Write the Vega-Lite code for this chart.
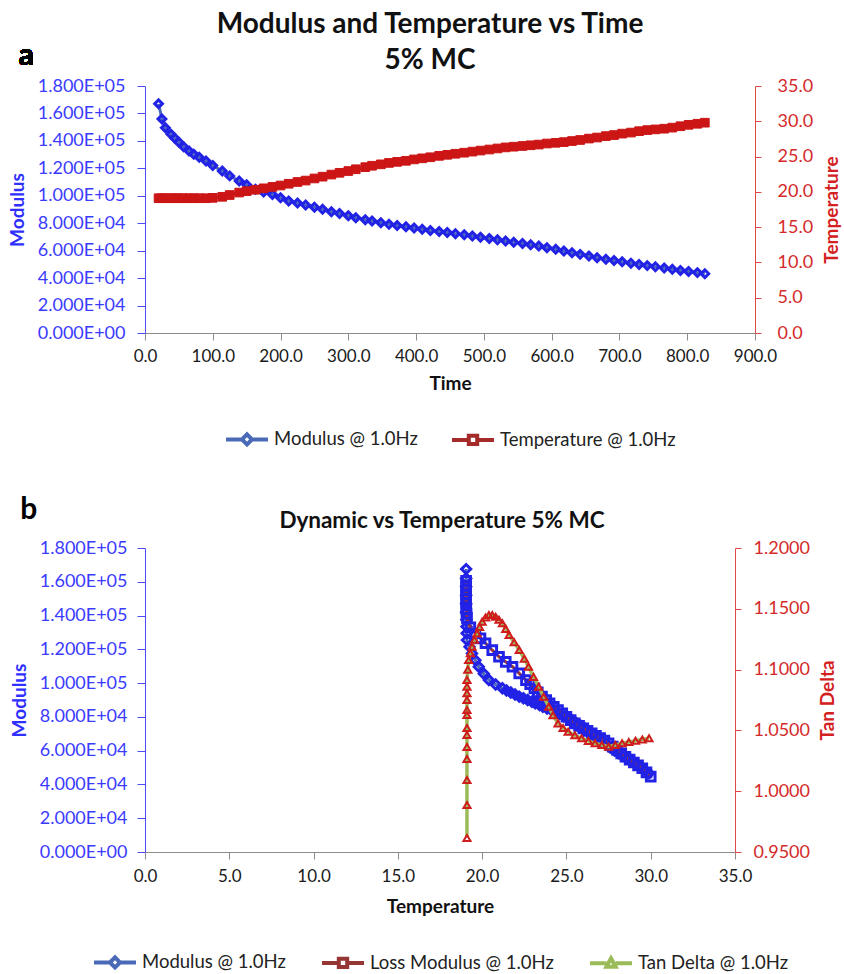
{
  "$schema": "https://vega.github.io/schema/vega-lite/v6.json",
  "padding": {"left": 8, "top": 10, "right": 0, "bottom": 0},
  "config": {
    "font": "Lato",
    "view": {"stroke": null},
    "title": {"font": "Lato", "fontWeight": "bold", "color": "#111111"},
    "axis": {"grid": false, "labelFont": "Lato", "titleFont": "Lato", "labelFontSize": 17, "titleFontSize": 19, "titleFontWeight": "bold", "labelOverlap": false, "labelFlush": false},
    "axisQuantitative": {"labelOverlap": false},
    "legend": {"layout": {"bottom": {"anchor": "middle"}}}
  },
  "spacing": 42,
  "resolve": {"scale": {"x": "independent", "y": "independent", "color": "independent"}, "legend": {"color": "independent"}},
  "datasets": {
    "a": [
      {"t": 20, "m": 167000, "temp": 19.1}, {"t": 25, "m": 156000, "temp": 19.1}, {"t": 30, "m": 149500, "temp": 19.1},
      {"t": 38, "m": 145000, "temp": 19.1}, {"t": 44, "m": 142000, "temp": 19.1}, {"t": 50, "m": 139000, "temp": 19.1},
      {"t": 57, "m": 135800, "temp": 19.1}, {"t": 65, "m": 132600, "temp": 19.1}, {"t": 72, "m": 130200, "temp": 19.1},
      {"t": 80, "m": 128000, "temp": 19.1}, {"t": 90, "m": 125300, "temp": 19.1}, {"t": 100, "m": 122000, "temp": 19.15},
      {"t": 114, "m": 118000, "temp": 19.3}, {"t": 125, "m": 114500, "temp": 19.55}, {"t": 139, "m": 110800, "temp": 19.9},
      {"t": 150, "m": 108000, "temp": 20.1}, {"t": 163, "m": 104700, "temp": 20.3}, {"t": 175, "m": 102800, "temp": 20.5},
      {"t": 188, "m": 101000, "temp": 20.7}, {"t": 200, "m": 98500, "temp": 20.9}, {"t": 212, "m": 96200, "temp": 21.15},
      {"t": 225, "m": 94700, "temp": 21.4}, {"t": 237, "m": 93300, "temp": 21.6}, {"t": 250, "m": 91700, "temp": 21.9},
      {"t": 262, "m": 90100, "temp": 22.15}, {"t": 275, "m": 88400, "temp": 22.45}, {"t": 287, "m": 87000, "temp": 22.7},
      {"t": 300, "m": 85500, "temp": 22.95}, {"t": 311, "m": 84000, "temp": 23.2}, {"t": 325, "m": 82600, "temp": 23.5},
      {"t": 335, "m": 81600, "temp": 23.7}, {"t": 348, "m": 80400, "temp": 23.9}, {"t": 360, "m": 79200, "temp": 24.1},
      {"t": 372, "m": 78300, "temp": 24.25}, {"t": 385, "m": 77400, "temp": 24.4}, {"t": 397, "m": 76500, "temp": 24.6},
      {"t": 409, "m": 75600, "temp": 24.75}, {"t": 421, "m": 74700, "temp": 24.9}, {"t": 434, "m": 74000, "temp": 25.1},
      {"t": 446, "m": 73300, "temp": 25.25}, {"t": 458, "m": 72400, "temp": 25.4}, {"t": 471, "m": 71600, "temp": 25.55},
      {"t": 483, "m": 70700, "temp": 25.7}, {"t": 495, "m": 69800, "temp": 25.85}, {"t": 508, "m": 68900, "temp": 26.0},
      {"t": 520, "m": 67900, "temp": 26.15}, {"t": 532, "m": 67000, "temp": 26.3}, {"t": 544, "m": 66100, "temp": 26.4},
      {"t": 557, "m": 65300, "temp": 26.5}, {"t": 569, "m": 64300, "temp": 26.6}, {"t": 581, "m": 63400, "temp": 26.7},
      {"t": 593, "m": 62200, "temp": 26.85}, {"t": 606, "m": 61000, "temp": 26.95}, {"t": 618, "m": 59700, "temp": 27.05},
      {"t": 630, "m": 58500, "temp": 27.2}, {"t": 642, "m": 57300, "temp": 27.35}, {"t": 655, "m": 56100, "temp": 27.55},
      {"t": 667, "m": 54900, "temp": 27.7}, {"t": 680, "m": 53700, "temp": 27.9}, {"t": 692, "m": 52800, "temp": 28.05},
      {"t": 704, "m": 51900, "temp": 28.25}, {"t": 717, "m": 50900, "temp": 28.4}, {"t": 729, "m": 50000, "temp": 28.6},
      {"t": 741, "m": 49100, "temp": 28.75}, {"t": 753, "m": 48200, "temp": 28.85}, {"t": 766, "m": 47300, "temp": 28.95},
      {"t": 778, "m": 46400, "temp": 29.1}, {"t": 790, "m": 45600, "temp": 29.3}, {"t": 802, "m": 44900, "temp": 29.5},
      {"t": 815, "m": 44000, "temp": 29.65}, {"t": 826, "m": 43200, "temp": 29.8}
    ],
    "bm": [
      {"i": 0, "temp": 19.05, "m": 167500}, {"i": 1, "temp": 19.05, "m": 162000}, {"i": 2, "temp": 19.05, "m": 157000},
      {"i": 3, "temp": 19.05, "m": 152000}, {"i": 4, "temp": 19.05, "m": 147000}, {"i": 5, "temp": 19.05, "m": 142000},
      {"i": 6, "temp": 19.06, "m": 137500}, {"i": 7, "temp": 19.07, "m": 133500}, {"i": 8, "temp": 19.08, "m": 129500},
      {"i": 9, "temp": 19.1, "m": 125500}, {"i": 10, "temp": 19.25, "m": 121500}, {"i": 11, "temp": 19.4, "m": 117600},
      {"i": 12, "temp": 19.6, "m": 113500}, {"i": 13, "temp": 19.8, "m": 109700}, {"i": 14, "temp": 20.1, "m": 105500},
      {"i": 15, "temp": 20.4, "m": 101800}, {"i": 16, "temp": 20.8, "m": 99200}, {"i": 17, "temp": 21.2, "m": 96900},
      {"i": 18, "temp": 21.45, "m": 95600}, {"i": 19, "temp": 21.7, "m": 94400}, {"i": 20, "temp": 21.95, "m": 93200},
      {"i": 21, "temp": 22.2, "m": 92000}, {"i": 22, "temp": 22.45, "m": 91000}, {"i": 23, "temp": 22.7, "m": 90000},
      {"i": 24, "temp": 22.95, "m": 89000}, {"i": 25, "temp": 23.15, "m": 88000}, {"i": 26, "temp": 23.4, "m": 87000},
      {"i": 27, "temp": 23.6, "m": 86000}, {"i": 28, "temp": 23.85, "m": 85000}, {"i": 29, "temp": 24.1, "m": 84100},
      {"i": 30, "temp": 24.35, "m": 82900}, {"i": 31, "temp": 24.6, "m": 81700}, {"i": 32, "temp": 24.85, "m": 80400},
      {"i": 33, "temp": 25.1, "m": 79200}, {"i": 34, "temp": 25.35, "m": 77700}, {"i": 35, "temp": 25.6, "m": 76200},
      {"i": 36, "temp": 25.85, "m": 74700}, {"i": 37, "temp": 26.1, "m": 73200}, {"i": 38, "temp": 26.35, "m": 71200},
      {"i": 39, "temp": 26.6, "m": 69300}, {"i": 40, "temp": 26.85, "m": 67300}, {"i": 41, "temp": 27.1, "m": 65300},
      {"i": 42, "temp": 27.35, "m": 63500}, {"i": 43, "temp": 27.6, "m": 61800}, {"i": 44, "temp": 27.85, "m": 60100},
      {"i": 45, "temp": 28.1, "m": 58400}, {"i": 46, "temp": 28.35, "m": 56900}, {"i": 47, "temp": 28.6, "m": 55400},
      {"i": 48, "temp": 28.85, "m": 53900}, {"i": 49, "temp": 29.1, "m": 52500}, {"i": 50, "temp": 29.3, "m": 51000},
      {"i": 51, "temp": 29.5, "m": 49500}, {"i": 52, "temp": 29.7, "m": 48000}, {"i": 53, "temp": 29.9, "m": 46600}
    ],
    "bl": [
      {"i": 0, "temp": 19.05, "m": 160600}, {"i": 1, "temp": 19.05, "m": 157500}, {"i": 2, "temp": 19.05, "m": 155000},
      {"i": 3, "temp": 19.05, "m": 152500}, {"i": 4, "temp": 19.05, "m": 150000}, {"i": 5, "temp": 19.05, "m": 147600},
      {"i": 6, "temp": 19.06, "m": 144000}, {"i": 7, "temp": 19.07, "m": 141000}, {"i": 8, "temp": 19.1, "m": 138500},
      {"i": 9, "temp": 19.3, "m": 133000}, {"i": 10, "temp": 19.6, "m": 129500}, {"i": 11, "temp": 19.9, "m": 126500},
      {"i": 12, "temp": 20.2, "m": 123600}, {"i": 13, "temp": 20.6, "m": 119500}, {"i": 14, "temp": 21.0, "m": 115600},
      {"i": 15, "temp": 21.4, "m": 112600}, {"i": 16, "temp": 21.8, "m": 109700}, {"i": 17, "temp": 22.2, "m": 105800},
      {"i": 18, "temp": 22.6, "m": 101800}, {"i": 19, "temp": 22.85, "m": 99300}, {"i": 20, "temp": 23.1, "m": 96900},
      {"i": 21, "temp": 23.3, "m": 94500}, {"i": 22, "temp": 23.55, "m": 92000}, {"i": 23, "temp": 23.8, "m": 90000},
      {"i": 24, "temp": 24.0, "m": 88000}, {"i": 25, "temp": 24.25, "m": 86000}, {"i": 26, "temp": 24.5, "m": 84100},
      {"i": 27, "temp": 24.75, "m": 82100}, {"i": 28, "temp": 25.0, "m": 80100}, {"i": 29, "temp": 25.25, "m": 78100},
      {"i": 30, "temp": 25.5, "m": 76200}, {"i": 31, "temp": 25.75, "m": 74700}, {"i": 32, "temp": 26.0, "m": 73200},
      {"i": 33, "temp": 26.25, "m": 71700}, {"i": 34, "temp": 26.5, "m": 70300}, {"i": 35, "temp": 26.75, "m": 68800},
      {"i": 36, "temp": 27.0, "m": 67400}, {"i": 37, "temp": 27.25, "m": 65900}, {"i": 38, "temp": 27.5, "m": 64400},
      {"i": 39, "temp": 27.75, "m": 62400}, {"i": 40, "temp": 28.0, "m": 60400}, {"i": 41, "temp": 28.25, "m": 58400},
      {"i": 42, "temp": 28.5, "m": 56400}, {"i": 43, "temp": 28.75, "m": 54700}, {"i": 44, "temp": 29.0, "m": 53000},
      {"i": 45, "temp": 29.25, "m": 51300}, {"i": 46, "temp": 29.5, "m": 49600}, {"i": 47, "temp": 29.75, "m": 47100},
      {"i": 48, "temp": 30.0, "m": 44600}
    ],
    "bt": [
      {"i": 0, "temp": 19.1, "td": 0.9615}, {"i": 1, "temp": 19.1, "td": 0.9887}, {"i": 2, "temp": 19.1, "td": 1.0092},
      {"i": 3, "temp": 19.1, "td": 1.0265}, {"i": 4, "temp": 19.1, "td": 1.0364}, {"i": 5, "temp": 19.1, "td": 1.0462},
      {"i": 6, "temp": 19.1, "td": 1.052}, {"i": 7, "temp": 19.1, "td": 1.0627}, {"i": 8, "temp": 19.1, "td": 1.0668},
      {"i": 9, "temp": 19.1, "td": 1.075}, {"i": 10, "temp": 19.1, "td": 1.0806}, {"i": 11, "temp": 19.1, "td": 1.0859},
      {"i": 12, "temp": 19.1, "td": 1.0915}, {"i": 13, "temp": 19.15, "td": 1.1}, {"i": 14, "temp": 19.2, "td": 1.1079},
      {"i": 15, "temp": 19.3, "td": 1.1135}, {"i": 16, "temp": 19.4, "td": 1.1188}, {"i": 17, "temp": 19.55, "td": 1.1245},
      {"i": 18, "temp": 19.7, "td": 1.1298}, {"i": 19, "temp": 19.85, "td": 1.135}, {"i": 20, "temp": 20.0, "td": 1.1394},
      {"i": 21, "temp": 20.2, "td": 1.1428}, {"i": 22, "temp": 20.4, "td": 1.1449}, {"i": 23, "temp": 20.6, "td": 1.1448},
      {"i": 24, "temp": 20.8, "td": 1.1435}, {"i": 25, "temp": 21.0, "td": 1.141}, {"i": 26, "temp": 21.2, "td": 1.1381},
      {"i": 27, "temp": 21.4, "td": 1.1335}, {"i": 28, "temp": 21.6, "td": 1.1285}, {"i": 29, "temp": 21.9, "td": 1.1225},
      {"i": 30, "temp": 22.2, "td": 1.1161}, {"i": 31, "temp": 22.5, "td": 1.109}, {"i": 32, "temp": 22.75, "td": 1.1024},
      {"i": 33, "temp": 23.05, "td": 1.094}, {"i": 34, "temp": 23.35, "td": 1.0859}, {"i": 35, "temp": 23.65, "td": 1.0777},
      {"i": 36, "temp": 23.95, "td": 1.0695}, {"i": 37, "temp": 24.2, "td": 1.0625}, {"i": 38, "temp": 24.5, "td": 1.0558},
      {"i": 39, "temp": 24.8, "td": 1.052}, {"i": 40, "temp": 25.1, "td": 1.0489}, {"i": 41, "temp": 25.5, "td": 1.046},
      {"i": 42, "temp": 25.9, "td": 1.0435}, {"i": 43, "temp": 26.3, "td": 1.0413}, {"i": 44, "temp": 26.7, "td": 1.0394},
      {"i": 45, "temp": 27.1, "td": 1.038}, {"i": 46, "temp": 27.5, "td": 1.0366}, {"i": 47, "temp": 27.9, "td": 1.038},
      {"i": 48, "temp": 28.3, "td": 1.0394}, {"i": 49, "temp": 28.7, "td": 1.0405}, {"i": 50, "temp": 29.1, "td": 1.0415},
      {"i": 51, "temp": 29.5, "td": 1.0425}, {"i": 52, "temp": 29.9, "td": 1.0435}
    ]
  },
  "vconcat": [
    {
      "width": 610,
      "height": 247,
      "title": {"text": ["Modulus and Temperature vs Time", "5% MC"], "frame": "group", "anchor": "middle", "dx": -20, "offset": -34, "lineHeight": 36, "fontSize": 28},
      "resolve": {"scale": {"y": "independent"}},
      "layer": [
        {
          "data": {"name": "a"},
          "layer": [
            {
              "mark": {"type": "line", "strokeWidth": 3},
              "encoding": {
                "x": {"field": "t", "type": "quantitative", "title": "Time", "scale": {"domain": [0, 900], "nice": false},
                  "axis": {"values": [0, 100, 200, 300, 400, 500, 600, 700, 800, 900], "format": ".1f", "labelOverlap": false, "domainColor": "#8c8c8c", "tickColor": "#8c8c8c", "tickSize": 7, "labelColor": "#1a1a1a", "labelPadding": 8, "titleColor": "#111111", "titlePadding": 10}},
                "y": {"field": "m", "type": "quantitative", "title": "Modulus", "scale": {"domain": [0, 180000], "nice": false},
                  "axis": {"orient": "left", "values": [0, 20000, 40000, 60000, 80000, 100000, 120000, 140000, 160000, 180000], "tickCount": 10, "labelOverlap": false,
                    "labelExpr": "datum.value == 0 ? '0.000E+00' : format(datum.value / pow(10, floor(log(datum.value) / LN10 + 1e-9)), '.3f') + 'E+0' + floor(log(datum.value) / LN10 + 1e-9)",
                    "labelFontSize": 18, "domainColor": "#4d4dff", "tickColor": "#4d4dff", "tickSize": 8, "labelColor": "#3b3bff", "labelPadding": 12, "titleColor": "#2f2fff", "titlePadding": 10}},
                "color": {"datum": "Modulus @ 1.0Hz",
                  "scale": {"domain": ["Modulus @ 1.0Hz", "Temperature @ 1.0Hz"], "range": ["#4a6ab8", "#a52a2a"]},
                  "legend": {"orient": "bottom", "direction": "horizontal", "title": null, "offset": 23, "symbolType": "M-1,0H1", "symbolSize": 1764, "symbolStrokeWidth": 4, "labelFontSize": 18.5, "labelFont": "Lato", "labelColor": "#222222", "columnPadding": 26, "labelOffset": 4, "labelLimit": 300,
                    "encode": {"symbols": {"update": {"shape": {"signal": "datum.value === 'Temperature @ 1.0Hz' ? 'M-1,0H-0.2M0.2,0H1M-0.2,-0.2H0.2V0.2H-0.2Z' : 'M-1,0H-0.24M0.24,0H1M-0.24,0L0,-0.24L0.24,0L0,0.24Z'"}}}}}}
              }
            },
            {
              "mark": {"type": "point", "shape": "diamond", "filled": false, "stroke": "#2222e6", "strokeWidth": 3, "size": 60, "opacity": 1},
              "encoding": {
                "x": {"field": "t", "type": "quantitative", "title": "Time"},
                "y": {"field": "m", "type": "quantitative", "title": "Modulus"}
              }
            },
            {
              "mark": {"type": "text", "text": "a", "fontSize": 30, "fontWeight": "bold", "color": "#000000", "align": "center", "baseline": "middle"},
              "encoding": {
                "x": {"datum": -175, "type": "quantitative", "title": "Time"},
                "y": {"datum": 201900, "type": "quantitative", "title": "Modulus"}
              }
            }
          ]
        },
        {
          "data": {"name": "a"},
          "layer": [
            {
              "mark": {"type": "line", "strokeWidth": 3},
              "encoding": {
                "x": {"field": "t", "type": "quantitative", "title": "Time"},
                "y": {"field": "temp", "type": "quantitative", "title": "Temperature", "scale": {"domain": [0, 35], "nice": false},
                  "axis": {"orient": "right", "values": [0, 5, 10, 15, 20, 25, 30, 35], "tickCount": 8, "labelOverlap": false, "format": ".1f", "labelFontSize": 18, "domainColor": "#e04848", "tickColor": "#e04848", "tickSize": 6, "labelColor": "#d42a2a", "labelPadding": 16, "titleColor": "#d42020", "titlePadding": 10, "titleAngle": 270, "titleBaseline": "top"}},
                "color": {"datum": "Temperature @ 1.0Hz"}
              }
            },
            {
              "mark": {"type": "point", "shape": "square", "filled": true, "fill": "#cc1515", "stroke": "#cc1515", "strokeWidth": 1, "size": 75, "opacity": 1},
              "encoding": {
                "x": {"field": "t", "type": "quantitative", "title": "Time"},
                "y": {"field": "temp", "type": "quantitative", "title": "Temperature"}
              }
            }
          ]
        }
      ]
    },
    {
      "width": 590,
      "height": 304,
      "title": {"text": "Dynamic vs Temperature 5% MC", "frame": "group", "anchor": "middle", "dx": 2, "offset": -37, "fontSize": 22.5},
      "resolve": {"scale": {"y": "independent"}},
      "layer": [
        {
          "layer": [
            {
              "data": {"name": "bm"},
              "mark": {"type": "line", "strokeWidth": 3},
              "encoding": {
                "x": {"field": "temp", "type": "quantitative", "title": "Temperature", "scale": {"domain": [0, 35], "nice": false},
                  "axis": {"values": [0, 5, 10, 15, 20, 25, 30, 35], "format": ".1f", "labelOverlap": false, "domainColor": "#8c8c8c", "tickColor": "#8c8c8c", "tickSize": 7, "labelColor": "#1a1a1a", "labelPadding": 9, "titleColor": "#111111", "titlePadding": 13}},
                "y": {"field": "m", "type": "quantitative", "title": "Modulus", "scale": {"domain": [0, 180000], "nice": false},
                  "axis": {"orient": "left", "values": [0, 20000, 40000, 60000, 80000, 100000, 120000, 140000, 160000, 180000], "tickCount": 10, "labelOverlap": false,
                    "labelExpr": "datum.value == 0 ? '0.000E+00' : format(datum.value / pow(10, floor(log(datum.value) / LN10 + 1e-9)), '.3f') + 'E+0' + floor(log(datum.value) / LN10 + 1e-9)",
                    "labelFontSize": 18, "domainColor": "#4d4dff", "tickColor": "#4d4dff", "tickSize": 8, "labelColor": "#3b3bff", "labelPadding": 10, "titleColor": "#2f2fff", "titlePadding": 10}},
                "order": {"field": "i", "type": "quantitative"},
                "color": {"datum": "Modulus @ 1.0Hz",
                  "scale": {"domain": ["Modulus @ 1.0Hz", "Loss Modulus @ 1.0Hz", "Tan Delta @ 1.0Hz"], "range": ["#4a6ab8", "#963634", "#9bbb59"]},
                  "legend": {"orient": "bottom", "direction": "horizontal", "title": null, "offset": 23, "symbolType": "M-1,0H1", "symbolSize": 1764, "symbolStrokeWidth": 4, "labelFontSize": 18.5, "labelFont": "Lato", "labelColor": "#222222", "columnPadding": 28, "labelOffset": 4, "labelLimit": 300,
                    "encode": {"symbols": {"update": {"shape": {"signal": "datum.value === 'Loss Modulus @ 1.0Hz' ? 'M-1,0H-0.2M0.2,0H1M-0.2,-0.2H0.2V0.2H-0.2Z' : datum.value === 'Tan Delta @ 1.0Hz' ? 'M-1,0H-0.22M0.22,0H1M0,-0.24L0.22,0.16H-0.22Z' : 'M-1,0H-0.24M0.24,0H1M-0.24,0L0,-0.24L0.24,0L0,0.24Z'"}}}}}}
              }
            },
            {
              "data": {"name": "bm"},
              "mark": {"type": "point", "shape": "diamond", "filled": false, "stroke": "#2222e6", "strokeWidth": 3, "size": 85, "opacity": 1},
              "encoding": {
                "x": {"field": "temp", "type": "quantitative", "title": "Temperature"},
                "y": {"field": "m", "type": "quantitative", "title": "Modulus"}
              }
            },
            {
              "data": {"name": "bl"},
              "mark": {"type": "line", "strokeWidth": 3},
              "encoding": {
                "x": {"field": "temp", "type": "quantitative", "title": "Temperature"},
                "y": {"field": "m", "type": "quantitative", "title": "Modulus"},
                "order": {"field": "i", "type": "quantitative"},
                "color": {"datum": "Loss Modulus @ 1.0Hz"}
              }
            },
            {
              "data": {"name": "bl"},
              "mark": {"type": "point", "shape": "square", "filled": false, "stroke": "#2222e6", "strokeWidth": 3, "size": 75, "opacity": 1},
              "encoding": {
                "x": {"field": "temp", "type": "quantitative", "title": "Temperature"},
                "y": {"field": "m", "type": "quantitative", "title": "Modulus"}
              }
            },
            {
              "data": {"name": "bm"},
              "mark": {"type": "text", "text": "b", "fontSize": 30, "fontWeight": "bold", "color": "#000000", "align": "center", "baseline": "middle"},
              "transform": [{"filter": "datum.i == 0"}],
              "encoding": {
                "x": {"datum": -6.9, "type": "quantitative", "title": "Temperature"},
                "y": {"datum": 202500, "type": "quantitative", "title": "Modulus"}
              }
            }
          ]
        },
        {
          "data": {"name": "bt"},
          "layer": [
            {
              "mark": {"type": "line", "strokeWidth": 3.5},
              "encoding": {
                "x": {"field": "temp", "type": "quantitative", "title": "Temperature"},
                "y": {"field": "td", "type": "quantitative", "title": "Tan Delta", "scale": {"domain": [0.95, 1.2], "nice": false},
                  "axis": {"orient": "right", "values": [0.95, 1.0, 1.05, 1.1, 1.15, 1.2], "tickCount": 6, "labelOverlap": false, "format": ".4f", "labelFontSize": 18, "domainColor": "#e04848", "tickColor": "#e04848", "tickSize": 6, "labelColor": "#d42a2a", "labelPadding": 12, "titleColor": "#d42020", "titlePadding": 9, "titleAngle": 270, "titleBaseline": "top"}},
                "order": {"field": "i", "type": "quantitative"},
                "color": {"datum": "Tan Delta @ 1.0Hz"}
              }
            },
            {
              "mark": {"type": "point", "shape": "triangle-up", "filled": false, "stroke": "#d01c1c", "strokeWidth": 2, "size": 50, "opacity": 1},
              "encoding": {
                "x": {"field": "temp", "type": "quantitative", "title": "Temperature"},
                "y": {"field": "td", "type": "quantitative", "title": "Tan Delta"}
              }
            }
          ]
        }
      ]
    }
  ]
}
